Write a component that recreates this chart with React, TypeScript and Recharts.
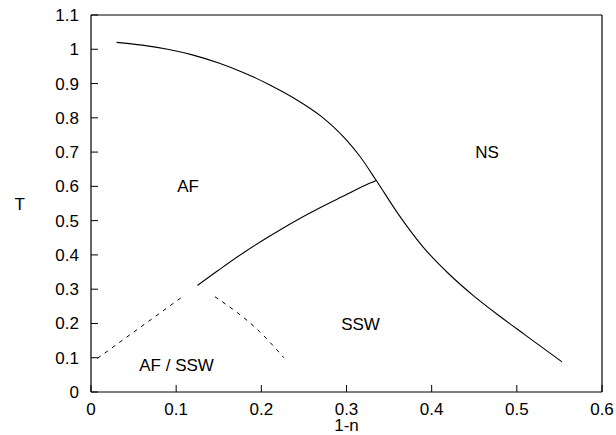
import { Line, LineChart, ReferenceDot, XAxis, YAxis } from "recharts";

// phase boundary T_c(1-n): AF / NS and SSW / NS
const upperX = [0.03, 0.06, 0.09, 0.12, 0.15, 0.18, 0.21, 0.24, 0.27, 0.3, 0.315, 0.335, 0.36, 0.39, 0.42, 0.45, 0.48, 0.51, 0.553];
const upperT = [1.02, 1.012, 1.0, 0.983, 0.96, 0.931, 0.896, 0.855, 0.805, 0.735, 0.69, 0.617, 0.522, 0.423, 0.345, 0.279, 0.221, 0.166, 0.088];

// AF / SSW boundary (solid part)
const afSswX = [0.125, 0.15, 0.18, 0.21, 0.24, 0.27, 0.3, 0.32, 0.335];
const afSswT = [0.311, 0.356, 0.408, 0.455, 0.499, 0.539, 0.576, 0.601, 0.617];

// dashed boundaries around the AF / SSW coexistence region
const dashLeftX = [0.0075, 0.106];
const dashLeftT = [0.098, 0.2755];
const dashRightX = [0.1455, 0.198, 0.2265];
const dashRightT = [0.278, 0.176, 0.1];

// region labels
const regionNames = ["AF", "NS", "SSW", "AF / SSW"];
const regionX = [0.114, 0.465, 0.3165, 0.1005];
const regionT = [0.602, 0.701, 0.199, 0.079];

const xTicks = [0, 0.1, 0.2, 0.3, 0.4, 0.5, 0.6];
const yTicks = [0, 0.1, 0.2, 0.3, 0.4, 0.5, 0.6, 0.7, 0.8, 0.9, 1, 1.1];

const toRows = (xs: number[], ys: number[]) => xs.map((x, i) => ({ x, y: ys[i] }));

const FONT = "'Liberation Sans', Arial, sans-serif";
const tickStyle = { fill: "#000", fontSize: 17, fontFamily: FONT };
const axisLine = { stroke: "#000", strokeWidth: 1.2 };
const tickLine = { stroke: "#000", strokeWidth: 1 };

export default function App() {
	return (
		<div style={{ position: "absolute", left: 0, top: 0, background: "#fff" }}>
			<LineChart
				width={616}
				height={435}
				margin={{ top: 14, right: 13, bottom: 42, left: 90 }}
			>
				<XAxis
					dataKey="x"
					type="number"
					domain={[0, 0.6]}
					ticks={xTicks}
					height={1}
					tickSize={-7}
					tickMargin={18}
					tick={tickStyle}
					axisLine={axisLine}
					tickLine={tickLine}
					label={{ value: "1-n", position: "bottom", offset: 26, style: tickStyle }}
				/>
				<XAxis
					xAxisId="top"
					orientation="top"
					dataKey="x"
					type="number"
					domain={[0, 0.6]}
					ticks={xTicks}
					height={1}
					tickSize={-7}
					tickFormatter={() => ""}
					axisLine={axisLine}
					tickLine={tickLine}
				/>
				<YAxis
					type="number"
					domain={[0, 1.1]}
					ticks={yTicks}
					width={1}
					tickSize={-7}
					tickMargin={19}
					tick={tickStyle}
					axisLine={axisLine}
					tickLine={tickLine}
					label={{ value: "T", position: "left", offset: 65, style: tickStyle }}
				/>
				<YAxis
					yAxisId="right"
					orientation="right"
					type="number"
					domain={[0, 1.1]}
					ticks={yTicks}
					width={1}
					tickSize={-7}
					tickFormatter={() => ""}
					axisLine={axisLine}
					tickLine={tickLine}
				/>

				<Line
					data={toRows(upperX, upperT)}
					dataKey="y"
					type="monotone"
					stroke="#000"
					strokeWidth={1.1}
					dot={false}
					isAnimationActive={false}
				/>
				<Line
					data={toRows(afSswX, afSswT)}
					dataKey="y"
					type="monotone"
					stroke="#000"
					strokeWidth={1.1}
					dot={false}
					isAnimationActive={false}
				/>
				<Line
					data={toRows(dashLeftX, dashLeftT)}
					dataKey="y"
					type="linear"
					stroke="#000"
					strokeWidth={1}
					strokeDasharray="4 5"
					dot={false}
					isAnimationActive={false}
				/>
				<Line
					data={toRows(dashRightX, dashRightT)}
					dataKey="y"
					type="monotone"
					stroke="#000"
					strokeWidth={1}
					strokeDasharray="4 5"
					dot={false}
					isAnimationActive={false}
				/>

				{regionNames.map((name, i) => (
					<ReferenceDot
						key={name}
						x={regionX[i]}
						y={regionT[i]}
						r={0}
						fill="none"
						stroke="none"
						label={{ value: name, position: "center", style: tickStyle }}
					/>
				))}
			</LineChart>
		</div>
	);
}
